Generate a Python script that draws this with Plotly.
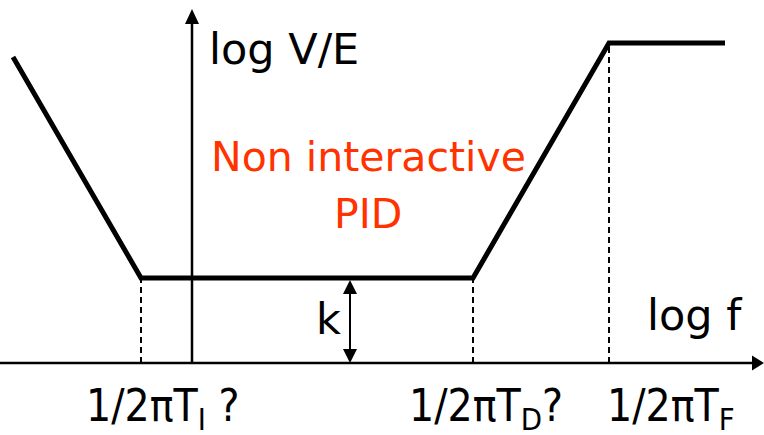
import plotly.graph_objects as go

# Asymptotic magnitude of a non-interactive PID with derivative filter.
# Horizontal: log f, vertical: log V/E (units measured from the axes origin).
log_f = [-179, -51, 281, 417, 533]
log_gain = [306, 85, 85, 320, 320]

# Break frequencies and their labels
corner_f = [-51, 281, 417]
corner_gain = [85, 85, 320]
corner_labels = ["1/2πT<sub>I</sub> ?", "1/2πT<sub>D</sub>?", "1/2πT<sub>F</sub>"]
corner_label_shift = [-57, -66, -4]

# Mid-band proportional gain k
k_f = 158
k_gain = 85

F_MIN, F_MAX = -192, 572
G_MIN, G_MAX = -72, 363
Y_ARROW_TIP = 354

FONT = "DejaVu Sans"
TICK_FONT = "DejaVu Sans Condensed, DejaVu Sans"
RED = "#FF3300"

fig = go.Figure()

# Asymptote curve
fig.add_trace(go.Scatter(
    x=log_f, y=log_gain, mode="lines",
    line=dict(color="black", width=5),
    hoverinfo="skip", showlegend=False,
))

shapes = []


def arrow_head(x_tip, y_tip, direction, length=14, width=14):
    """Filled triangular arrow head pointing in `direction`."""
    h = width / 2
    if direction == "up":
        pts = [(x_tip - h, y_tip - length), (x_tip + h, y_tip - length), (x_tip, y_tip)]
    elif direction == "down":
        pts = [(x_tip - h, y_tip + length), (x_tip + h, y_tip + length), (x_tip, y_tip)]
    else:  # right
        pts = [(x_tip - length, y_tip - h), (x_tip - length, y_tip + h), (x_tip, y_tip)]
    path = "M " + " L ".join(f"{px},{py}" for px, py in pts) + " Z"
    return dict(type="path", path=path, xref="x", yref="y",
                fillcolor="black", line=dict(color="black", width=0))


# Axes with arrows
shapes.append(dict(type="line", xref="x", yref="y", x0=F_MIN, y0=0, x1=F_MAX - 10, y1=0,
                   line=dict(color="black", width=2.5)))
shapes.append(arrow_head(F_MAX, 0, "right", length=12, width=15))
shapes.append(dict(type="line", xref="x", yref="y", x0=0, y0=0, x1=0, y1=Y_ARROW_TIP - 10,
                   line=dict(color="black", width=2.5)))
shapes.append(arrow_head(0, Y_ARROW_TIP, "up", length=15, width=14))

# Dashed drop lines from each break point
for f, g in zip(corner_f, corner_gain):
    shapes.append(dict(type="line", xref="x", yref="y", x0=f, y0=0, x1=f, y1=g,
                       line=dict(color="black", width=2, dash="6px,4px")))

# Double arrow marking the gain k
shapes.append(dict(type="line", xref="x", yref="y", x0=k_f, y0=10, x1=k_f, y1=k_gain - 10,
                   line=dict(color="black", width=2)))
shapes.append(arrow_head(k_f, k_gain - 2, "up", length=14, width=14))
shapes.append(arrow_head(k_f, 0, "down", length=14, width=14))

annotations = [
    dict(x=15, y=314, text="log V/E", xanchor="left", yanchor="middle",
         font=dict(family=FONT, size=43, color="black")),
    dict(x=176, y=206, text="Non interactive", xanchor="center", yanchor="middle",
         font=dict(family=FONT, size=41, color=RED)),
    dict(x=176, y=149, text="PID", xanchor="center", yanchor="middle",
         font=dict(family=FONT, size=41, color=RED)),
    dict(x=453, y=48, text="log f", xanchor="left", yanchor="middle",
         font=dict(family=FONT, size=43, color="black")),
    dict(x=k_f, y=44, text="k", xanchor="right", yanchor="middle", xshift=-7,
         font=dict(family=FONT, size=43, color="black")),
]
for f, lab, sh in zip(corner_f, corner_labels, corner_label_shift):
    annotations.append(dict(x=f, y=-45, text=lab, xanchor="left", yanchor="middle",
                            xshift=sh, font=dict(family=TICK_FONT, size=44, color="black")))

for a in annotations:
    a.update(showarrow=False, xref="x", yref="y")

fig.update_layout(
    width=764, height=435,
    margin=dict(l=0, r=0, t=0, b=0),
    paper_bgcolor="white", plot_bgcolor="white",
    xaxis=dict(range=[F_MIN, F_MAX], visible=False, fixedrange=True),
    yaxis=dict(range=[G_MIN, G_MAX], visible=False, fixedrange=True),
    shapes=shapes,
    annotations=annotations,
    showlegend=False,
)

fig.write_html("out.html", config={"displayModeBar": False})
